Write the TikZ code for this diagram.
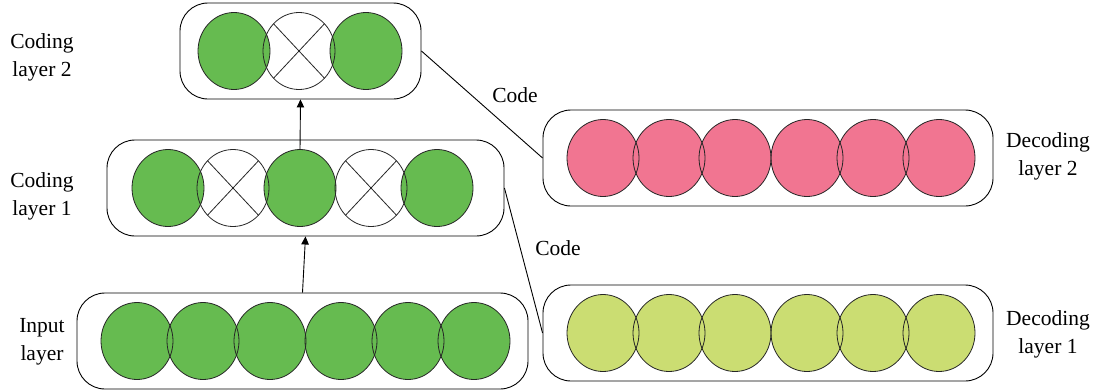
\documentclass[tikz,border=0pt]{standalone}
\usepackage{fontspec}
\setmainfont{Liberation Serif}
\usetikzlibrary{shapes.geometric,arrows.meta}
\definecolor{cgreen}{RGB}{102,187,80}
\definecolor{cpink}{RGB}{241,117,145}
\definecolor{clime}{RGB}{203,221,114}
\begin{document}
\begin{tikzpicture}[x=1pt,y=-1pt,
  layerbox/.style={draw, line width=0.9pt, rounded corners=28pt, inner sep=0pt, fill=white},
  unit/.style={ellipse, minimum width=72pt, minimum height=77pt, inner sep=0pt},
  ring/.style={line width=0.8pt, draw=black!85},
  lbl/.style={align=center, font=\fontsize{21.5}{28}\selectfont},
  conn/.style={line width=0.9pt},
  arr/.style={line width=0.9pt, -{Triangle[width=7.5pt,length=8pt]}}
]
\useasboundingbox (0,0) rectangle (1097,391);

% layer boxes
\node[layerbox, minimum width=241pt, minimum height=96pt] (c2) at (300.5,51) {};
\node[layerbox, minimum width=397pt, minimum height=96pt] (c1) at (305.5,188) {};
\node[layerbox, minimum width=451pt, minimum height=96pt] (in) at (302.5,341) {};
\node[layerbox, minimum width=450pt, minimum height=96pt] (d2) at (768,158) {};
\node[layerbox, minimum width=450pt, minimum height=96pt] (d1) at (768,333) {};

% units: fills
\foreach \x [count=\i] in {137,203,270,341,408,474}
  \node[unit, fill=cgreen] (in\i) at (\x,341) {};
\foreach \x [count=\i] in {603,669,735,807,873,939}
  \node[unit, fill=cpink] (dd\i) at (\x,158) {};
\foreach \x [count=\i] in {603,669,735,807,873,939}
  \node[unit, fill=clime] (da\i) at (\x,333) {};
\node[unit, fill=cgreen] (ca1) at (168,188) {};
\node[unit] (ca2) at (233,188) {};
\node[unit, fill=cgreen] (ca3) at (300,188) {};
\node[unit] (ca4) at (371,188) {};
\node[unit, fill=cgreen] (ca5) at (437,188) {};
\node[unit, fill=cgreen] (cb1) at (234,51) {};
\node[unit] (cb2) at (299,51) {};
\node[unit, fill=cgreen] (cb3) at (366,51) {};

% units: outlines
\foreach \n in {in1,in2,in3,in4,in5,in6,dd1,dd2,dd3,dd4,dd5,dd6,da1,da2,da3,da4,da5,da6,ca1,ca2,ca3,ca4,ca5,cb1,cb2,cb3}
  \draw[ring] (\n.center) ellipse [x radius=36pt, y radius=38.5pt];

% crosses
\foreach \n in {ca2,ca4,cb2} {
  \draw[ring] (\n.north west) -- (\n.south east);
  \draw[ring] (\n.north east) -- (\n.south west);
}

% connectors
\draw[arr] (in.north) -- (c1.south);
\draw[arr] (ca3.north) -- (c2.south);
\draw[conn] (c2.east) -- (d2.west);
\draw[conn] (c1.east) -- (d1.west);

% labels
\node[lbl] (t1) at (515,95) {Code};
\node[lbl] (t2) at (558,248) {Code};
\node[lbl] (lc2) at (42,57) {Coding\\layer 2};
\node[lbl] (lc1) at (42,196) {Coding\\layer 1};
\node[lbl] (lin) at (42,342) {Input\\layer};
\node[lbl] (ld2) at (1048,156) {Decoding\\layer 2};
\node[lbl] (ld1) at (1048,334) {Decoding\\layer 1};
\end{tikzpicture}
\end{document}
